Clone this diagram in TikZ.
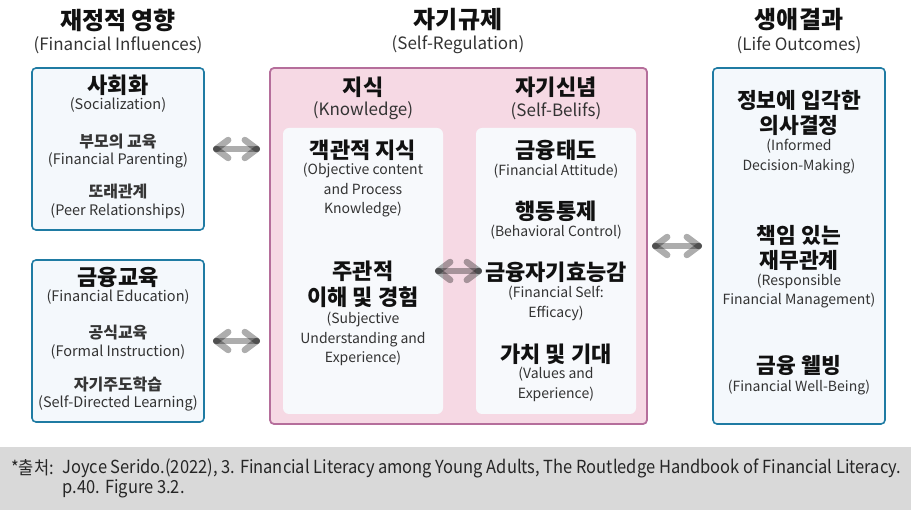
\documentclass[tikz,border=0pt]{standalone}
\usepackage{fontspec}
\setmainfont{Noto Sans CJK KR}
\newfontfamily\notefont[FakeStretch=0.916]{Noto Sans CJK KR}
\definecolor{boxedge}{HTML}{1F7BA3}
\definecolor{boxfill}{HTML}{F4F8FC}
\definecolor{pinkfill}{HTML}{F6D9E4}
\definecolor{pinkedge}{HTML}{B56E9B}
\definecolor{innerfill}{HTML}{F7F9FC}
\definecolor{notefill}{HTML}{D9D9D9}
\definecolor{engtext}{HTML}{333333}
\definecolor{kortext}{HTML}{111111}
\tikzset{
  outerbox/.style={draw=boxedge, line width=1.6pt, fill=boxfill, rounded corners=4pt},
  selfbox/.style={draw=pinkedge, line width=1.8pt, fill=pinkfill, rounded corners=4pt},
  innerbox/.style={fill=innerfill, rounded corners=6pt},
  title/.style={font=\fontsize{24}{28}\selectfont\bfseries, text=kortext, inner sep=0pt},
  titleen/.style={font=\fontsize{17}{20}\selectfont, text=engtext, inner sep=0pt},
  head/.style={font=\fontsize{22}{26}\selectfont\bfseries, text=kortext, inner sep=0pt, align=center},
  subhead/.style={font=\fontsize{16}{19}\selectfont\bfseries, text=kortext!85, inner sep=0pt},
  eng/.style={font=\fontsize{14.5}{19.5}\selectfont, text=engtext, inner sep=0pt, align=center},
  engc/.style={font=\fontsize{14}{19.5}\selectfont, text=engtext, inner sep=0pt, align=center},
  arrowpart/.style={draw=black, draw opacity=0.32, line width=6.5pt, line cap=round},
  note/.style={font=\notefont\fontsize{18}{21}\selectfont, text=black!85, inner sep=0pt, anchor=west}
}
% two-headed translucent arrow between two coordinates (horizontal)
\newcommand\twoway[2]{%
  \draw[arrowpart] (#1) -- (#2);
  \draw[arrowpart] (#1) -- ++(12,9);
  \draw[arrowpart] (#1) -- ++(12,-9);
  \draw[arrowpart] (#2) -- ++(-12,9);
  \draw[arrowpart] (#2) -- ++(-12,-9);
}
\begin{document}
\begin{tikzpicture}[x=1pt, y=-1pt]
\useasboundingbox (0,0) rectangle (911,510);

% column titles
\node[title] (t1) at (118,20) {재정적 영향};
\node[titleen] (t1e) at (118,45) {(Financial Influences)};
\node[title] (t2) at (458,20) {자기규제};
\node[titleen] (t2e) at (458,45) {(Self-Regulation)};
\node[title] (t3) at (799,20) {생애결과};
\node[titleen] (t3e) at (799,45) {(Life Outcomes)};

% financial influences
\draw[outerbox] (32,68) rectangle (204,230);
\node[inner sep=0pt, minimum width=172pt, minimum height=162pt] (soc) at (118,149) {};
\node[head] (soch) at (118,85) {사회화};
\node[eng] (soce) at (118,105) {(Socialization)};
\node[subhead] (par) at (118,142) {부모의 교육};
\node[eng] (pare) at (118,160) {(Financial Parenting)};
\node[subhead] (peer) at (118,192) {또래관계};
\node[eng] (peere) at (118,211) {(Peer Relationships)};

\draw[outerbox] (32,260) rectangle (204,422);
\node[inner sep=0pt, minimum width=172pt, minimum height=162pt] (edu) at (118,341) {};
\node[head] (eduh) at (118,277) {금융교육};
\node[eng] (edue) at (118,297) {(Financial Education)};
\node[subhead] (form) at (118,333) {공식교육};
\node[eng] (forme) at (118,352) {(Formal Instruction)};
\node[subhead] (selfd) at (118,384) {자기주도학습};
\node[eng] (selfde) at (118,403) {(Self-Directed Learning)};

% self-regulation
\draw[selfbox] (270,68) rectangle (647,424);
\node[inner sep=0pt, minimum width=377pt, minimum height=356pt] (reg) at (458.5,246) {};
\node[head] (know) at (363,87) {지식};
\node[titleen] (knowe) at (363,111) {(Knowledge)};
\node[head] (bel) at (556,87) {자기신념};
\node[titleen] (bele) at (556,111) {(Self-Belifs)};

\fill[innerbox] (283,128) rectangle (443,414);
\node[inner sep=0pt, minimum width=160pt, minimum height=286pt] (kbox) at (363,271) {};
\fill[innerbox] (476,128) rectangle (636,414);
\node[inner sep=0pt, minimum width=160pt, minimum height=286pt] (bbox) at (556,271) {};

\node[head] (obj) at (363,150) {객관적 지식};
\node[engc] (obje) at (363,190.5) {(Objective content\\and Process\\Knowledge)};
\node[head] (subj) at (363,284) {주관적\\이해 및 경험};
\node[engc] (subje) at (363,339) {(Subjective\\Understanding and\\Experience)};

\node[head] (att) at (556,150) {금융태도};
\node[engc] (atte) at (556,171) {(Financial Attitude)};
\node[head] (ctl) at (556,211) {행동통제};
\node[engc] (ctle) at (556,232) {(Behavioral Control)};
\node[head] (eff) at (556,272) {금융자기효능감};
\node[engc] (effe) at (556,303.5) {(Financial Self:\\Efficacy)};
\node[head] (val) at (556,354) {가치 및 기대};
\node[engc] (vale) at (556,384.5) {(Values and\\Experience)};

% life outcomes
\draw[outerbox] (713,68) rectangle (885,424);
\node[inner sep=0pt, minimum width=172pt, minimum height=356pt] (out) at (799,246) {};
\node[head, font=\fontsize{21.5}{25}\selectfont\bfseries] (dec) at (799,112.5) {정보에 입각한\\의사결정};
\node[engc] (dece) at (799,156.5) {(Informed\\Decision-Making)};
\node[head, font=\fontsize{21.5}{25}\selectfont\bfseries] (resp) at (799,247.5) {책임 있는\\재무관계};
\node[engc] (respe) at (799,291) {(Responsible\\Financial Management)};
\node[head, font=\fontsize{21.5}{25}\selectfont\bfseries] (well) at (799,365) {금융 웰빙};
\node[engc] (welle) at (799,388) {(Financial Well-Being)};

% connectors
\coordinate (a1) at ([xshift=12pt]soc.east);
\coordinate (b1) at ([xshift=-13pt]soc.east -| reg.west);
\twoway{a1}{b1}
\coordinate (a2) at ([xshift=12pt]edu.east);
\coordinate (b2) at ([xshift=-13pt]edu.east -| reg.west);
\twoway{a2}{b2}
\coordinate (a3) at ([xshift=-5pt]kbox.east);
\coordinate (b3) at ([xshift=3pt]bbox.west);
\twoway{a3}{b3}
\coordinate (a4) at ([xshift=8pt]reg.east);
\coordinate (b4) at ([xshift=-14pt]out.west);
\twoway{a4}{b4}

% source note
\fill[notefill] (0,447) rectangle (911,510);
\node[note] (lab) at (11,468) {*출처:};
\node[note] (src) at ([xshift=8.5pt]lab.east) {Joyce Serido.(2022), 3. Financial Literacy among Young Adults, The Routledge Handbook of Financial Literacy.};
\node[note] (src2) at (src.west |- 0,489) {p.40. Figure 3.2.};
\end{tikzpicture}
\end{document}
